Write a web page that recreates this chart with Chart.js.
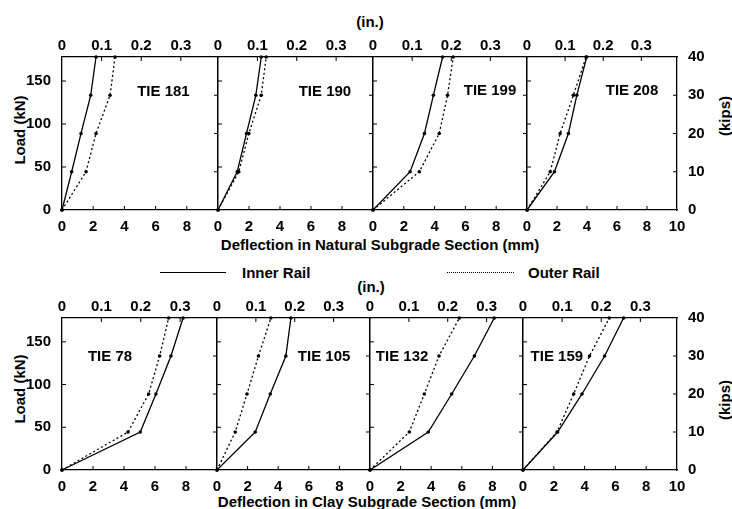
<!DOCTYPE html>
<html>
<head>
<meta charset="utf-8">
<title>Tie load vs deflection</title>
<script src="https://cdn.jsdelivr.net/npm/chart.js@4.4.1/dist/chart.umd.min.js"></script>
<style>
  body { margin: 0; background: #fff; }
  #page {
    position: relative; width: 732px; height: 509px; overflow: hidden;
    font-family: 'Liberation Sans', Arial, sans-serif; font-weight: bold; font-size: 15px; color: #000;
  }
  #page canvas { position: absolute; left: 0; top: 0; }
  .lbl { position: absolute; transform: translate(-50%, -50%); white-space: nowrap; }
  .lft { position: absolute; transform: translate(0, -50%); white-space: nowrap; }
  .vlbl { position: absolute; transform: translate(-50%, -50%) rotate(-90deg); white-space: nowrap; }
  .key { position: absolute; height: 0; border-top: 1.3px solid #000; }
  .key.dotted { border-top: 1.5px dotted #000; }
</style>
</head>
<body>
<div id="page">
  <div class="lbl" style="left:370px;top:21px">(in.)</div>
  <div class="lbl" style="left:380px;top:244px">Deflection in Natural Subgrade Section (mm)</div>
  <div class="key" style="left:160px;top:272px;width:66px"></div>
  <div class="lft" style="left:242px;top:272px">Inner Rail</div>
  <div class="key dotted" style="left:447px;top:272px;width:67px"></div>
  <div class="lft" style="left:528px;top:272px">Outer Rail</div>
  <div class="lbl" style="left:371px;top:286px">(in.)</div>
  <div class="lbl" style="left:367px;top:501px">Deflection in Clay Subgrade Section (mm)</div>
  <div class="vlbl" style="left:19px;top:130px">Load (kN)</div>
  <div class="vlbl" style="left:19px;top:389px">Load (kN)</div>
  <div class="vlbl" style="left:724px;top:116px">(kips)</div>
  <div class="vlbl" style="left:724px;top:400px">(kips)</div>
</div>

<script>
// Load steps (kN) = 0, 10, 20, 30, 40 kips
const loadKN = [0, 44.5, 89.0, 133.4, 177.9];

// Tick labels
const mmTicks = [0, 2, 4, 6, 8, 10];
const inchTicks = [0, 0.1, 0.2, 0.3];
const kNTicks = [0, 50, 100, 150];
const kipTicks = [0, 10, 20, 30, 40];

// Natural subgrade section, deflection (mm)
const naturalTies = ['TIE 181', 'TIE 190', 'TIE 199', 'TIE 208'];
const tie181Inner = [0, 0.62, 1.22, 1.84, 2.18];
const tie181Outer = [0, 1.54, 2.18, 3.08, 3.40];
const tie190Inner = [0, 1.24, 1.84, 2.44, 2.79];
const tie190Outer = [0, 1.34, 1.99, 2.79, 3.11];
const tie199Inner = [0, 2.41, 3.34, 3.92, 4.52];
const tie199Outer = [0, 3.01, 4.30, 4.84, 5.21];
const tie208Inner = [0, 1.83, 2.76, 3.32, 3.98];
const tie208Outer = [0, 1.55, 2.21, 3.09, 3.94];

// Clay subgrade section, deflection (mm)
const clayTies = ['TIE 78', 'TIE 105', 'TIE 132', 'TIE 159'];
const tie78Inner = [0, 5.05, 6.06, 7.03, 7.81];
const tie78Outer = [0, 4.26, 5.59, 6.30, 6.88];
const tie105Inner = [0, 2.50, 3.48, 4.50, 4.83];
const tie105Outer = [0, 1.19, 1.96, 2.71, 3.52];
const tie132Inner = [0, 3.81, 5.34, 6.82, 8.12];
const tie132Outer = [0, 2.57, 3.55, 4.51, 5.84];
const tie159Inner = [0, 2.25, 3.83, 5.30, 6.53];
const tie159Outer = [0, 2.21, 3.29, 4.32, 5.60];

const KN_PER_KIP = 4.448;
const MM_PER_IN = 25.4;

// Page layout (pixels)
const PAGE_W = 732, PAGE_H = 509;
const rows = [
    {
        top: 57, bottom: 210, edges: [62, 218, 373, 527, 677],
        ties: naturalTies,
        inner: [tie181Inner, tie190Inner, tie199Inner, tie208Inner],
        outer: [tie181Outer, tie190Outer, tie199Outer, tie208Outer],
        // where the tie name sits, in (mm, kN)
        labelAt: [[6.5, 137], [6.9, 137], [7.6, 139], [7.0, 139]]
    },
    {
        top: 318, bottom: 470, edges: [62, 217, 370, 523, 677],
        ties: clayTies,
        inner: [tie78Inner, tie105Inner, tie132Inner, tie159Inner],
        outer: [tie78Outer, tie105Outer, tie132Outer, tie159Outer],
        labelAt: [[3.1, 133], [7.0, 133], [2.1, 133], [2.2, 133]]
    }
];

const FONT = { family: "'Liberation Sans', Arial, sans-serif", size: 15, weight: 'bold' };
const TICK_LEN = 4;

/**
 * Small tick marks pointing into the plot, plus the tie name
 */
const panelExtras = {
    id: 'panelExtras',
    afterDraw(chart, args, opts) {
        const { ctx, chartArea: a } = chart;
        ctx.save();
        ctx.strokeStyle = '#000';
        ctx.lineWidth = 1;
        Object.values(chart.scales).forEach(s => {
            if (!s.options.inward) return;
            s.ticks.forEach(t => {
                if (t.value <= s.min || t.value >= s.max) return;
                const p = s.getPixelForValue(t.value);
                ctx.beginPath();
                if (s.position === 'bottom') { ctx.moveTo(p, a.bottom); ctx.lineTo(p, a.bottom - TICK_LEN); }
                if (s.position === 'top') { ctx.moveTo(p, a.top); ctx.lineTo(p, a.top + TICK_LEN); }
                if (s.position === 'left') { ctx.moveTo(a.left, p); ctx.lineTo(a.left + TICK_LEN, p); }
                if (s.position === 'right') { ctx.moveTo(a.right, p); ctx.lineTo(a.right - TICK_LEN, p); }
                ctx.stroke();
            });
        });

        // tie name
        ctx.fillStyle = '#000';
        ctx.font = `bold ${FONT.size}px ${FONT.family}`;
        ctx.textAlign = 'center';
        ctx.textBaseline = 'middle';
        ctx.fillText(opts.text, chart.scales.x.getPixelForValue(opts.at[0]), chart.scales.y.getPixelForValue(opts.at[1]));
        ctx.restore();
    }
};

function fixedTicks(values) {
    return scale => { scale.ticks = values.map(v => ({ value: v })); };
}

function axis(position, min, max, ticks, show, size, padding, fmt) {
    const horizontal = position === 'top' || position === 'bottom';
    return {
        type: 'linear',
        position: position,
        min: min,
        max: max,
        inward: true,
        afterBuildTicks: fixedTicks(ticks),
        afterFit: s => { if (horizontal) s.height = size; else s.width = size; },
        grid: { display: false },
        border: { display: true, color: '#000', width: 1.3 },
        ticks: {
            display: show,
            color: '#000',
            font: FONT,
            padding: padding,
            maxRotation: 0,
            autoSkip: false,
            callback: fmt
        }
    };
}

function makePanel(row, i) {
    const first = i === 0, last = i === 3;
    const left = row.edges[i], right = row.edges[i + 1];
    const X_H = 30, X2_H = 40;
    const Y_W = first ? 40 : 0, Y2_W = last ? 30 : 0;

    const canvas = document.createElement('canvas');
    canvas.width = PAGE_W;
    canvas.height = PAGE_H;
    document.getElementById('page').appendChild(canvas);

    const toPoints = arr => arr.map((d, k) => ({ x: d, y: loadKN[k] }));
    const lineStyle = {
        borderColor: '#000',
        borderWidth: 1.3,
        pointRadius: 1.8,
        pointBackgroundColor: '#000',
        pointBorderWidth: 0,
        tension: 0,
        fill: false,
        clip: 4,
        xAxisID: 'x',
        yAxisID: 'y'
    };

    new Chart(canvas, {
        type: 'line',
        data: {
            datasets: [
                { label: 'Inner Rail', data: toPoints(row.inner[i]), ...lineStyle },
                { label: 'Outer Rail', data: toPoints(row.outer[i]), ...lineStyle, borderDash: [2, 2.5] }
            ]
        },
        options: {
            responsive: false,
            animation: false,
            devicePixelRatio: 1,
            events: [],
            layout: {
                padding: {
                    left: left - Y_W,
                    right: PAGE_W - right - Y2_W,
                    top: row.top - X2_H,
                    bottom: PAGE_H - row.bottom - X_H
                }
            },
            scales: {
                x: axis('bottom', 0, 10, mmTicks, true, X_H, 0,
                    v => (v === 10 && !last) ? '' : String(v)),
                xIn: axis('top', 0, 10 / MM_PER_IN, inchTicks, true, X2_H, -6,
                    v => v === 0 ? '0' : v.toFixed(1)),
                y: axis('left', 0, 40 * KN_PER_KIP, kNTicks, first, Y_W, 3, v => String(v)),
                yKip: axis('right', 0, 40, kipTicks, last, Y2_W, 3, v => String(v))
            },
            plugins: {
                legend: { display: false },
                tooltip: { enabled: false },
                panelExtras: { text: row.ties[i], at: row.labelAt[i] }
            }
        },
        plugins: [panelExtras]
    });
}

rows.forEach(row => {
    for (let i = 0; i < 4; i++) makePanel(row, i);
});
</script>
</body>
</html>
